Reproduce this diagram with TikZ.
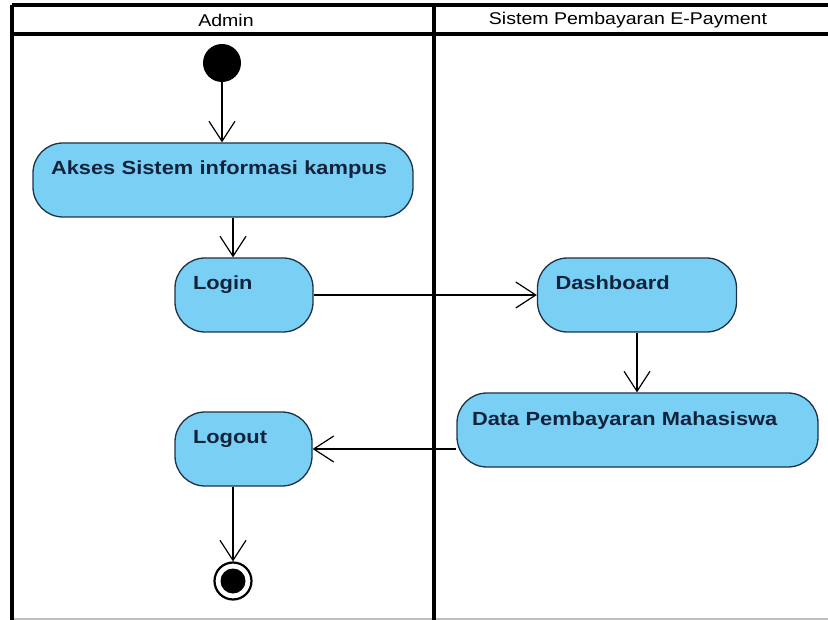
\documentclass[tikz,border=0pt]{standalone}
\usepackage{fontspec}
\setmainfont{Liberation Sans}[FakeStretch=1.15]
\usepackage{xcolor}
\usepackage{tikz}
\usetikzlibrary{arrows.meta,positioning}

\definecolor{actfill}{RGB}{122,207,245}
\definecolor{actline}{RGB}{30,50,70}
\definecolor{acttext}{RGB}{20,35,60}

\begin{document}
\begin{tikzpicture}[
  x=1pt, y=-1pt,
  lane/.style={line width=3.8pt, black},
  head/.style={font=\fontsize{17}{19}\selectfont, inner sep=0pt},
  act/.style={draw=actline, line width=1.3pt, fill=actfill, rounded corners=30pt,
    text=acttext, font=\fontsize{19}{22}\selectfont\bfseries, align=left,
    inner xsep=18pt, inner ysep=0pt, text height=32pt, text depth=42pt},
  startnode/.style={circle, fill=black, minimum size=38pt, inner sep=0pt},
  endnode/.style={circle, draw, line width=2.2pt, fill=white, minimum size=37pt, inner sep=0pt},
  flow/.style={-{Straight Barb[length=20pt,width=26pt]}, line width=1.2pt},
  >={Latex}
]
\useasboundingbox (0,0) rectangle (828,620);

% Swimlanes
\draw[gray!50, line width=1.5pt] (12,619) -- (828,619);
\draw[lane] (12,5) -- (828,5);
\draw[lane] (12,34) -- (828,34);
\draw[lane] (12,5) -- (12,620);
\draw[lane] (434,5) -- (434,620);
\node[head] (hadmin) at (226,20) {Admin};
\node[head] (hsys) at (628,20) {Sistem Pembayaran E-Payment};

% Nodes
\node[startnode] (start) at (222,63) {};
\node[act, text width=344pt] (akses) at (223,180) {Akses Sistem informasi kampus};
\node[act, text width=102pt] (login) at (244,295) {Login};
\node[act, text width=163pt] (dash) at (637,295) {Dashboard};
\node[act, inner xsep=15pt, text width=331pt] (data) at (637.5,430) {Data Pembayaran Mahasiswa};
\node[act, text width=101pt] (logout) at (243.5,449) {Logout};
\node[endnode] (fin) at (233,581) {};
\fill (fin) circle (12.5pt);

% Connections
\draw[flow] (start) -- (start |- akses.north);
\draw[flow] (akses.south -| fin) -- (login.north -| fin);
\draw[flow] (login) -- (dash);
\draw[flow] (dash) -- (dash |- data.north);
\draw[flow] (data.west |- logout) -- (logout);
\draw[flow] (logout.south -| fin) -- (fin);

\end{tikzpicture}
\end{document}
